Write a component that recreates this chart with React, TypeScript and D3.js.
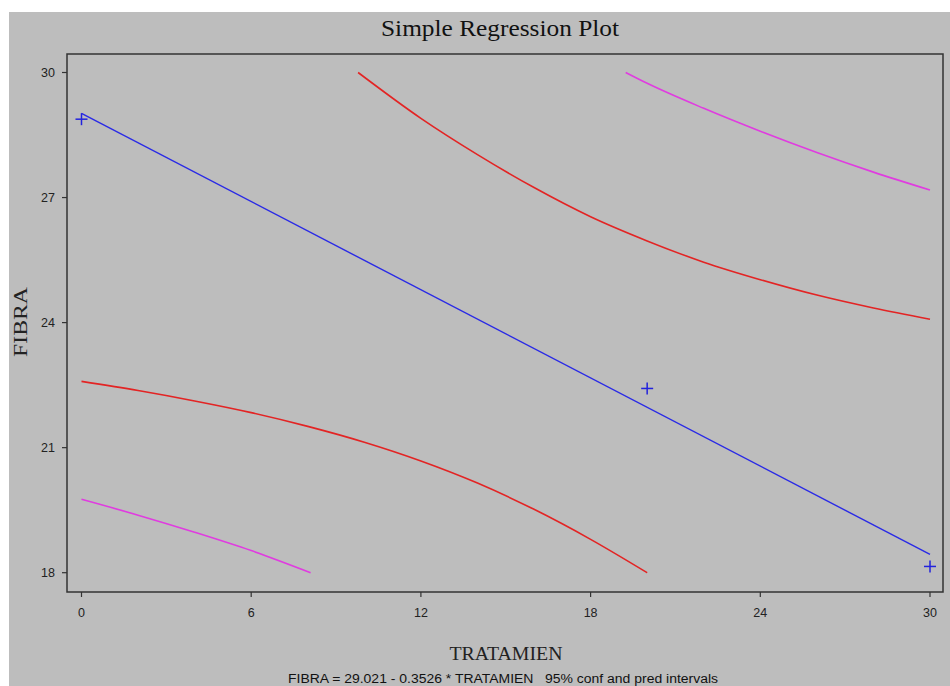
import React from "react";
import * as d3 from "d3";

// ---- data ----
const xTicks = [0, 6, 12, 18, 24, 30];
const yTicks = [18, 21, 24, 27, 30];

const obsT = [0, 20, 30];
const obsFibra = [28.88, 22.42, 18.15];

const fitT = [0, 30];
const fitFibra = [29.02, 18.44];

const confLowT = [0, 2, 4, 6, 8, 10, 12, 14, 16, 18, 20];
const confLowV = [22.59, 22.37, 22.12, 21.84, 21.51, 21.13, 20.68, 20.15, 19.52, 18.8, 18.0];

const confUpT = [9.78, 12, 14, 16, 18, 20, 22, 24, 26, 28, 30];
const confUpV = [30.0, 28.9, 28.03, 27.24, 26.54, 25.96, 25.45, 25.03, 24.66, 24.35, 24.08];

const predLowT = [0, 2, 4, 6, 8.1];
const predLowV = [19.76, 19.38, 18.97, 18.53, 18.0];

const predUpT = [19.24, 20, 22, 24, 26, 28, 30];
const predUpV = [30.0, 29.74, 29.14, 28.59, 28.08, 27.61, 27.18];

const titleText = "Simple Regression Plot";
const xLabel = "TRATAMIEN";
const yLabel = "FIBRA";
const footer = "FIBRA = 29.021 - 0.3526 * TRATAMIEN   95% conf and pred intervals";

export default function App() {
  const W = 950, H = 686;
  const frame = { l: 67, t: 54, r: 943, b: 592 };
  const x = d3.scaleLinear().domain([0, 30]).range([81.5, 930]);
  const y = d3.scaleLinear().domain([18, 30]).range([572.7, 72.5]);

  const line = d3
    .line<[number, number]>()
    .x((d) => x(d[0]))
    .y((d) => y(d[1]))
    .curve(d3.curveMonotoneX);

  const zip = (a: number[], b: number[]) => a.map((v, i) => [v, b[i]] as [number, number]);

  const serif = "'Liberation Serif', 'DejaVu Serif', serif";
  const sans = "'Liberation Sans', Arial, sans-serif";
  const axisColor = "#333";

  return (
    <svg
      width={W}
      height={H}
      style={{ position: "absolute", left: 0, top: 0, background: "#fff" }}
    >
      <rect x={9} y={12} width={W - 9} height={H - 12} fill="#bdbdbd" />
      <text x={500} y={36} textAnchor="middle" fontFamily={serif} fontSize={24} fill="#111"
        textLength={238} lengthAdjust="spacingAndGlyphs">
        {titleText}
      </text>

      {/* frame */}
      <rect
        x={frame.l}
        y={frame.t}
        width={frame.r - frame.l}
        height={frame.b - frame.t}
        fill="none"
        stroke={axisColor}
        strokeWidth={1.5}
      />

      {/* y ticks */}
      {yTicks.map((t) => (
        <g key={"y" + t}>
          <line x1={frame.l - 5} x2={frame.l} y1={y(t)} y2={y(t)} stroke={axisColor} strokeWidth={1.2} />
          <text x={frame.l - 12} y={y(t) + 4.5} textAnchor="end" fontFamily={sans} fontSize={12.5} fill="#222">
            {t}
          </text>
        </g>
      ))}

      {/* x ticks */}
      {xTicks.map((t) => (
        <g key={"x" + t}>
          <line x1={x(t)} x2={x(t)} y1={frame.b} y2={frame.b + 5} stroke={axisColor} strokeWidth={1.2} />
          <text x={x(t)} y={617} textAnchor="middle" fontFamily={sans} fontSize={12.5} fill="#222">
            {t}
          </text>
        </g>
      ))}

      <text x={506} y={660} textAnchor="middle" fontFamily={serif} fontSize={19} fill="#222"
        textLength={113} lengthAdjust="spacingAndGlyphs">
        {xLabel}
      </text>
      <text
        transform={`translate(27,${322}) rotate(-90)`}
        textAnchor="middle"
        fontFamily={serif}
        fontSize={19}
        fill="#222"
        textLength={70}
        lengthAdjust="spacingAndGlyphs"
      >
        {yLabel}
      </text>
      <text x={503} y={683} textAnchor="middle" fontFamily={sans} fontSize={12} fill="#111"
        style={{ whiteSpace: "pre" }} textLength={430} lengthAdjust="spacingAndGlyphs">
        {footer}
      </text>

      {/* curves */}
      <path d={line(zip(predLowT, predLowV)) || ""} fill="none" stroke="#e03ce0" strokeWidth={1.6} />
      <path d={line(zip(predUpT, predUpV)) || ""} fill="none" stroke="#e03ce0" strokeWidth={1.6} />
      <path d={line(zip(confLowT, confLowV)) || ""} fill="none" stroke="#e32424" strokeWidth={1.6} />
      <path d={line(zip(confUpT, confUpV)) || ""} fill="none" stroke="#e32424" strokeWidth={1.6} />
      <path d={line(zip(fitT, fitFibra)) || ""} fill="none" stroke="#2a2ae6" strokeWidth={1.4} />

      {/* observations */}
      {obsT.map((t, i) => (
        <g key={"p" + i} stroke="#2222dd" strokeWidth={1.5}>
          <line x1={x(t) - 6} x2={x(t) + 6} y1={y(obsFibra[i])} y2={y(obsFibra[i])} />
          <line x1={x(t)} x2={x(t)} y1={y(obsFibra[i]) - 6} y2={y(obsFibra[i]) + 6} />
        </g>
      ))}
    </svg>
  );
}
